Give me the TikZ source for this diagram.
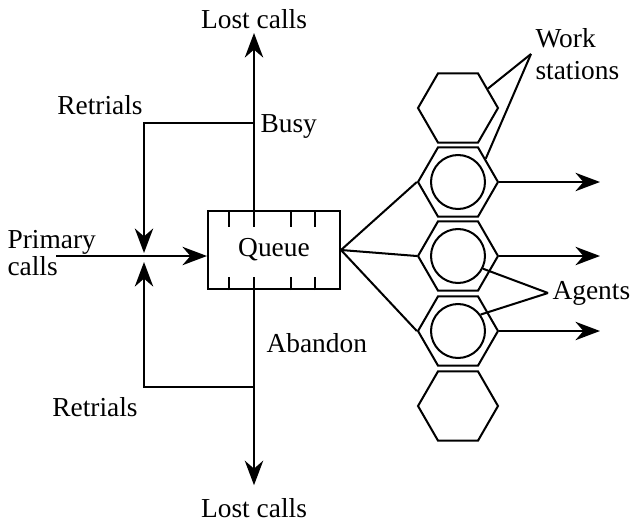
\documentclass[tikz,border=0pt]{standalone}
\usepackage{fontspec}
\setmainfont{Liberation Serif}
\usetikzlibrary{shapes.geometric, arrows.meta, positioning, calc}

\begin{document}
\begin{tikzpicture}[x=0.02cm, y=-0.02cm, line width=1.15pt, font=\fontsize{15.6}{15}\selectfont,
          qbox/.style={rectangle, draw, minimum width=2.64cm, minimum height=1.56cm, inner sep=0pt},
          wstation/.style={regular polygon, regular polygon sides=6, draw, minimum size=1.6cm, inner sep=0pt},
          agent/.style={circle, draw, minimum size=1.08cm, inner sep=0pt},
          lbl/.style={inner sep=2pt},
          arrow/.style={-{Stealth[length=14pt, width=10.5pt]}}]
        \useasboundingbox (0,0) rectangle (632,521);

        \node [qbox] (queue) at (274,250) {Queue};
        \draw ($(queue.north)+(-45,0)$) -- ++(0,17) ($(queue.north)+(-20,0)$) -- ++(0,17)
              ($(queue.north)+(17,0)$) -- ++(0,17) ($(queue.north)+(41,0)$) -- ++(0,17);
        \draw ($(queue.south)+(-45,0)$) -- ++(0,-13) ($(queue.south)+(-20,0)$) -- ++(0,-13)
              ($(queue.south)+(17,0)$) -- ++(0,-13) ($(queue.south)+(41,0)$) -- ++(0,-13);

        \node [wstation] (ws1) at (458,108) {};
        \node [wstation] (ws2) at (458,182) {};
        \node [wstation] (ws3) at (458,256) {};
        \node [wstation] (ws4) at (458,331) {};
        \node [wstation] (ws5) at (458,406) {};
        \node [agent] (ag2) at (ws2) {};
        \node [agent] (ag3) at (ws3) {};
        \node [agent] (ag4) at (ws4) {};

        \node [lbl, anchor=south] (lostup) at (254,33) {Lost calls};
        \node [lbl, anchor=north] (lostdown) at (254,494) {Lost calls};
        \node [lbl, anchor=west] (busy) at (256,126) {Busy};
        \node [lbl, anchor=west] (abandon) at (262,343) {Abandon};
        \node [lbl] (retrtop) at (100,105) {Retrials};
        \node [lbl] (retrbot) at (95,407) {Retrials};
        \node [lbl, anchor=west, align=left] (primary) at (3,253) {Primary\\calls};
        \node [lbl, anchor=west, align=left, font=\fontsize{15.6}{18}\selectfont] (wslabel) at (531,54) {Work\\stations};
        \node [lbl, anchor=west] (agents) at (548,293) {Agents};

        \coordinate (busyjn) at (254,123);
        \coordinate (abandonjn) at (254,387);
        \coordinate (merge) at (144,256);
        \coordinate (callsin) at (56,256);
        \coordinate (out2) at (600,182);
        \coordinate (out3) at (600,256);
        \coordinate (out4) at (600,331);

        \draw [arrow] (callsin) -- (merge -| queue.west);
        \draw [arrow] (busyjn) -| ($(merge)+(0,-3)$);
        \draw [arrow] (abandonjn) -| ($(merge)+(0,6)$);
        \draw [arrow] (queue.north -| busyjn) -- (lostup);
        \draw [arrow, shorten >=5pt] (queue.south -| abandonjn) -- (lostdown);

        \draw (queue.east) -- (ws2.west);
        \draw (queue.east) -- (ws3.west);
        \draw (queue.east) -- (ws4.west);
        \draw [arrow] (ws2.east) -- (out2);
        \draw [arrow] (ws3.east) -- (out3);
        \draw [arrow] (ws4.east) -- (out4);

        \draw (wslabel.west) -- (ws1.33);
        \draw (wslabel.west) -- (ws2.40);
        \draw (agents.west) -- (ag3.-27);
        \draw (agents.west) -- (ag4.36);
      \end{tikzpicture}
\end{document}
